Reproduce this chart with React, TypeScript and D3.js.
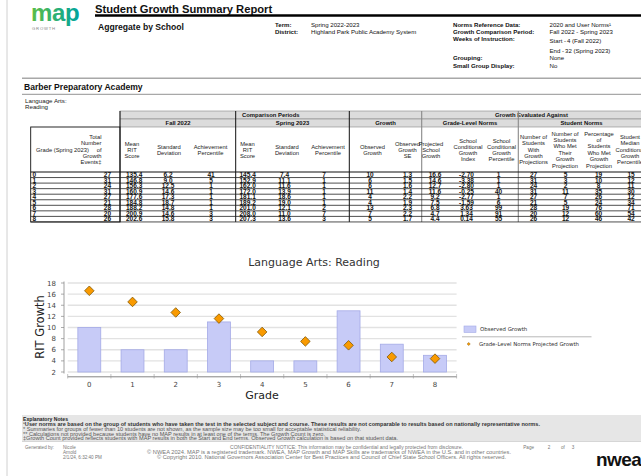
import * as d3 from 'd3'

const grades = ['0', '1', '2', '3', '4', '5', '6', '7', '8']
const totalEvents = [27, 31, 24, 31, 27, 21, 28, 20, 26]
const fallMean = ['135.4', '146.8', '156.3', '160.9', '177.6', '184.8', '188.2', '200.9', '202.6']
const fallSD = ['6.2', '9.0', '12.5', '14.6', '17.3', '18.7', '14.8', '14.6', '15.8']
const fallAch = [41, 5, 1, 1, 1, 1, 1, 3, 3]
const springMean = ['145.4', '152.9', '162.0', '172.0', '181.1', '189.2', '201.0', '208.0', '207.3']
const springSD = ['7.4', '11.1', '11.6', '13.9', '18.6', '19.0', '12.1', '11.0', '13.6']
const springAch = [7, 1, 1, 1, 1, 1, 2, 7, 3]
const observedGrowth = [10, 6, 6, 11, 4, 4, 13, 7, 5]
const growthSE = ['1.3', '1.5', '1.6', '1.4', '2.2', '1.9', '2.3', '2.2', '1.7']
const projectedGrowth = [16.6, 14.6, 12.7, 11.6, 9.2, 7.5, 6.8, 4.7, 4.4]
const growthIndex = ['-2.70', '-3.38', '-2.80', '-0.25', '-2.77', '-1.59', '3.63', '1.34', '0.14']
const growthPercentile = [1, 1, 1, 40, 1, 6, 99, 91, 55]
const withProjections = [27, 31, 24, 31, 27, 21, 28, 20, 26]
const metProjection = [5, 3, 2, 11, 7, 5, 19, 12, 12]
const pctMet = [19, 10, 8, 35, 26, 24, 76, 60, 46]
const medianCGP = [15, 12, 11, 30, 12, 34, 71, 54, 42]
const yTicks = [2, 4, 6, 8, 10, 12, 14, 16, 18]

const SANS = '"Liberation Sans", Arial, sans-serif'
const DJ = '"DejaVu Sans", sans-serif'

// table columns: header lines + data + placement
const columns = [
  { head: ['Grade (Spring 2023)'], hx: 62.5, data: grades, x: 32.5, anchor: 'start' },
  { head: ['Total', 'Number', 'of', 'Growth', 'Events‡'], hx: 101.5, hAnchor: 'end', data: totalEvents, x: 111, anchor: 'end' },
  { head: ['Mean', 'RIT', 'Score'], hx: 132, data: fallMean, x: 126, anchor: 'start' },
  { head: ['Standard', 'Deviation'], hx: 169, data: fallSD, x: 168, anchor: 'middle' },
  { head: ['Achievement', 'Percentile'], hx: 210.5, data: fallAch, x: 211, anchor: 'middle' },
  { head: ['Mean', 'RIT', 'Score'], hx: 247.5, data: springMean, x: 239.5, anchor: 'start' },
  { head: ['Standard', 'Deviation'], hx: 287, data: springSD, x: 284.5, anchor: 'middle' },
  { head: ['Achievement', 'Percentile'], hx: 328, data: springAch, x: 324, anchor: 'middle' },
  { head: ['Observed', 'Growth'], hx: 372.5, data: observedGrowth, x: 370, anchor: 'middle' },
  { head: ['Observed', 'Growth', 'SE'], hx: 407.5, data: growthSE, x: 407.5, anchor: 'middle' },
  { head: ['Projected', 'School', 'Growth'], hx: 431, data: projectedGrowth.map(d => d.toFixed(1)), x: 435, anchor: 'middle' },
  { head: ['School', 'Conditional', 'Growth', 'Index'], hx: 468, data: growthIndex, x: 466.5, anchor: 'middle' },
  { head: ['School', 'Conditional', 'Growth', 'Percentile'], hx: 501.5, data: growthPercentile, x: 498.5, anchor: 'middle' },
  { head: ['Number of', 'Students', 'With', 'Growth', 'Projections'], hx: 533.5, data: withProjections, x: 533.5, anchor: 'middle' },
  { head: ['Number of', 'Students', 'Who Met', 'Their', 'Growth', 'Projection'], hx: 565, data: metProjection, x: 565.5, anchor: 'middle' },
  { head: ['Percentage', 'of', 'Students', 'Who Met', 'Growth', 'Projection'], hx: 599, data: pctMet, x: 598.5, anchor: 'middle' },
  { head: ['Student', 'Median', 'Conditional', 'Growth', 'Percentile'], hx: 630, data: medianCGP, x: 631, anchor: 'middle' },
]

const notes = [
  '¹User norms are based on the group of students who have taken the test in the selected subject and course. These results are not comparable to results based on nationally representative norms.',
  '* Summaries for groups of fewer than 10 students are not shown, as the sample size may be too small for acceptable statistical reliability.',
  '** Calculations not provided because students have no MAP results in at least one of the terms. The Growth Count is zero.',
  '‡Growth Count provided reflects students with MAP results in both the Start and End terms.  Observed Growth calculation is based on that student data.',
]
const noteWidths = [517, 338, 302, 375]

export default function App() {
  // chart scales
  const x = d3.scaleBand<string>().domain(grades).range([67.7, 456.6]).paddingInner(0.47).paddingOuter(0.235)
  const y = d3.scaleLinear().domain([2, 18]).range([372, 283])
  const diamond = d3.symbol().type(d3.symbolSquare).size(46)()
  const smallDiamond = d3.symbol().type(d3.symbolSquare).size(5)()
  const step = x.step()
  const bounds = grades.map(g => (x(g) as number) - (step - x.bandwidth()) / 2).concat([456.6])

  // table geometry
  const tTop = 111, rowA = 119, rowB = 127, dataTop = 172, rowH = 5.55
  const tLeft = 30.7, tRight = 646
  const vBlack = [120, 235.7, 349.3]
  const vGray = [421.7, 518.3]
  const dataBottom = dataTop + rowH * grades.length
  const headMid = (rowB + dataTop) / 2

  return (
    <svg width={641} height={476} style={{ position: 'absolute', left: 0, top: 0, background: '#fff' }}>
      <defs>
        <linearGradient id="mapGrad" x1="0" x2="1" y1="0" y2="0">
          <stop offset="0" stopColor="#5cbd46" />
          <stop offset="1" stopColor="#00a39e" />
        </linearGradient>
      </defs>
      <rect width={641} height={476} fill="#fff" />
      <line x1={7} x2={7} y1={0} y2={476} stroke="#d0d0d0" strokeWidth={1} />

      {/* header */}
      <text x={31} y={21} fontFamily={SANS} fontWeight="bold" fontSize={24} fill="url(#mapGrad)" letterSpacing={-0.3}>map</text>
      <text x={32} y={30.3} fontFamily={SANS} fontSize={4.2} fill="#888" letterSpacing={0.8}>GROWTH</text>
      <text x={95} y={13.2} fontFamily={SANS} fontWeight="bold" fontSize={11.2} fill="#111">Student Growth Summary Report</text>
      <line x1={95} x2={641} y1={15.5} y2={15.5} stroke="#000" strokeWidth={2.4} />
      <text x={98} y={30} fontFamily={SANS} fontWeight="bold" fontSize={8.6} fill="#111">Aggregate by School</text>
      <g fontFamily={SANS} fontSize={6.1} fill="#111">
        <text x={275} y={26.7} fontWeight="bold">Term:</text>
        <text x={275} y={33.7} fontWeight="bold">District:</text>
        <text x={311} y={26.7}>Spring 2022-2023</text>
        <text x={311} y={33.7}>Highland Park Public Academy System</text>
        <text x={453} y={26.5} fontWeight="bold">Norms Reference Data:</text>
        <text x={453} y={33.5} fontWeight="bold">Growth Comparison Period:</text>
        <text x={453} y={40.5} fontWeight="bold">Weeks of Instruction:</text>
        <text x={453} y={59.9} fontWeight="bold">Grouping:</text>
        <text x={453} y={67.5} fontWeight="bold">Small Group Display:</text>
        <text x={549.5} y={26.5}>2020 and User Norms¹</text>
        <text x={549.5} y={33.5}>Fall 2022 - Spring 2023</text>
        <text x={549.5} y={42.5}>Start -</text>
        <text x={567} y={42.5}>4 (Fall 2022)</text>
        <text x={549.5} y={53.2}>End -</text>
        <text x={565} y={53.2}>32 (Spring 2023)</text>
        <text x={549.5} y={60.2}>None</text>
        <text x={549.5} y={67.5}>No</text>
      </g>
      <line x1={22} x2={641} y1={78.3} y2={78.3} stroke="#a8a8a8" strokeWidth={1.4} />
      <text x={24} y={89.8} fontFamily={SANS} fontWeight="bold" fontSize={8.6} fill="#111">Barber Preparatory Academy</text>
      <line x1={22} x2={641} y1={94.3} y2={94.3} stroke="#a8a8a8" strokeWidth={1.2} />
      <text x={25} y={103} fontFamily={SANS} fontSize={6.2} fill="#222">Language Arts:</text>
      <text x={25} y={109.3} fontFamily={SANS} fontSize={6.2} fill="#222">Reading</text>

      {/* table header bands */}
      <rect x={120} y={tTop} width={tRight - 120} height={rowA - tTop} fill="#dcdcdc" stroke="#888" strokeWidth={0.6} />
      <rect x={120} y={rowA} width={tRight - 120} height={rowB - rowA} fill="#dcdcdc" stroke="#888" strokeWidth={0.6} />
      <g fontFamily={SANS} fontWeight="bold" fontSize={5.9} fill="#111" textAnchor="middle">
        <text x={270.8} y={117.3}>Comparison Periods</text>
        <text x={531.5} y={117.3}>Growth Evaluated Against</text>
        <text x={178} y={125.1}>Fall 2022</text>
        <text x={292.5} y={125.1}>Spring 2023</text>
        <text x={385.5} y={125.1}>Growth</text>
        <text x={470} y={125.1}>Grade-Level Norms</text>
        <text x={581.5} y={125.1}>Student Norms</text>
      </g>
      <rect x={tLeft} y={rowB} width={120 - tLeft} height={dataBottom - rowB} fill="none" stroke="#111" strokeWidth={0.9} />
      {vBlack.map(v => <line key={v} x1={v} x2={v} y1={tTop} y2={dataBottom} stroke="#111" strokeWidth={1} />)}
      {vGray.map(v => <line key={v} x1={v} x2={v} y1={tTop} y2={dataBottom} stroke="#888" strokeWidth={1.1} />)}
      <line x1={tLeft} x2={tRight} y1={dataTop} y2={dataTop} stroke="#111" strokeWidth={1.2} />
      {grades.map((g, i) => (
        <line key={g} x1={tLeft} x2={tRight} y1={dataTop + rowH * (i + 1)} y2={dataTop + rowH * (i + 1)} stroke="#222" strokeWidth={0.8} />
      ))}
      <g fontFamily={SANS} fontSize={5.8} fill="#222">
        {columns.map((c, ci) => {
          const lh = c.head.length > 4 ? 6.4 : 6
          const y0 = headMid - ((c.head.length - 1) * lh) / 2
          return c.head.map((ln, li) => (
            <text key={ci + '-' + li} x={c.hx} y={y0 + li * lh + 2} textAnchor={c.hAnchor || 'middle'}>{ln}</text>
          ))
        })}
      </g>
      <g fontFamily={SANS} fontWeight="bold" fontSize={6.5} fill="#111">
        {columns.map((c, ci) =>
          c.data.map((v, ri) => (
            <text key={ci + '-' + ri} x={c.x} y={dataTop + rowH * ri + rowH / 2 + 2.3} textAnchor={c.anchor}>{String(v)}</text>
          ))
        )}
      </g>

      {/* chart */}
      <text x={314} y={265.5} fontFamily={DJ} fontSize={11} fill="#333" textAnchor="middle">Language Arts: Reading</text>
      {yTicks.map(t => (
        <g key={t}>
          <line x1={67.7} x2={456.6} y1={y(t)} y2={y(t)} stroke="#e2e2e2" strokeWidth={1.3} />
          <line x1={61} x2={64} y1={y(t)} y2={y(t)} stroke="#888" strokeWidth={0.7} />
          <text x={56} y={y(t) + 2.5} fontFamily={DJ} fontSize={7} fill="#444" textAnchor="end">{t}</text>
        </g>
      ))}
      <line x1={64} x2={64} y1={281.5} y2={373.5} stroke="#888" strokeWidth={0.8} />
      <line x1={67.7} x2={456.6} y1={376.8} y2={376.8} stroke="#666" strokeWidth={0.8} />
      {bounds.map((b, i) => (
        <line key={i} x1={b} x2={b} y1={374} y2={378.5} stroke="#999" strokeWidth={0.6} />
      ))}
      {grades.map((g, i) => (
        <rect key={g} x={x(g)} y={y(observedGrowth[i])} width={x.bandwidth()} height={y(2) - y(observedGrowth[i])}
          fill="#c7cbf7" stroke="#a4aae6" strokeWidth={0.8} />
      ))}
      {grades.map((g, i) => (
        <path key={g} d={diamond as string}
          transform={`translate(${(x(g) as number) + x.bandwidth() / 2},${y(projectedGrowth[i])}) rotate(45)`}
          fill="#f99a00" stroke="#7a5200" strokeWidth={0.7} />
      ))}
      {grades.map(g => (
        <text key={g} x={(x(g) as number) + x.bandwidth() / 2} y={386.5} fontFamily={DJ} fontSize={7} fill="#444" textAnchor="middle">{g}</text>
      ))}
      <text x={262} y={399} fontFamily={DJ} fontSize={11} fill="#222" textAnchor="middle">Grade</text>
      <text transform="translate(44,327) rotate(-90)" fontFamily={DJ} fontSize={11.5} fill="#222" textAnchor="middle">RIT Growth</text>

      {/* legend */}
      <rect x={464} y={326} width={12} height={6.5} fill="#c7cbf7" stroke="#a4aae6" strokeWidth={0.6} />
      <text x={480} y={331.3} fontFamily={DJ} fontSize={5.4} fill="#333">Observed Growth</text>
      <line x1={462} x2={591.5} y1={336.8} y2={336.8} stroke="#888" strokeWidth={0.6} />
      <path d={smallDiamond as string} transform="translate(468.7,344) rotate(45)" fill="#f99a00" stroke="#7a5200" strokeWidth={0.4} />
      <text x={479} y={345.8} fontFamily={DJ} fontSize={5.4} fill="#333">Grade-Level Norms Projected Growth</text>

      {/* footer */}
      <rect x={22} y={415} width={619} height={26} fill="#e6e6e6" />
      <text x={23} y={421.3} fontFamily={SANS} fontWeight="bold" fontSize={4.7} fill="#222" textLength={45} lengthAdjust="spacingAndGlyphs">Explanatory Notes</text>
      {notes.map((n, i) => (
        <text key={i} x={23} y={426.3 + i * 4.7} fontFamily={SANS} fontSize={4.6} fontWeight={i === 0 ? 'bold' : 'normal'}
          fill={i === 0 ? '#333' : '#555'} textLength={noteWidths[i]} lengthAdjust="spacingAndGlyphs">{n}</text>
      ))}
      <line x1={22} x2={641} y1={441.5} y2={441.5} stroke="#bbb" strokeWidth={0.6} />
      <g fontFamily={SANS} fontSize={4.6} fill="#777">
        <text x={25} y={449.3}>Generated by:</text>
        <text x={63} y={449.3}>Nicole</text>
        <text x={63} y={454.3}>Arnold</text>
        <text x={63} y={459.3}>2/1/24, 6:32:40 PM</text>
        <text x={230} y={449.3} textLength={233} lengthAdjust="spacingAndGlyphs">CONFIDENTIALITY NOTICE: This information may be confidential and legally protected from disclosure.</text>
        <text x={147} y={454.3} textLength={364} lengthAdjust="spacingAndGlyphs">© NWEA 2024. MAP is a registered trademark. NWEA, MAP Growth and MAP Skills are trademarks of NWEA in the U.S. and in other countries.</text>
        <text x={157} y={459.3} textLength={349} lengthAdjust="spacingAndGlyphs">© Copyright 2010. National Governors Association Center for Best Practices and Council of Chief State School Officers. All rights reserved.</text>
        <text x={523.3} y={449.3}>Page</text>
        <text x={547.7} y={449.3}>2</text>
        <text x={561} y={449.3}>of</text>
        <text x={571.7} y={449.3}>3</text>
      </g>
      <text x={596} y={466} fontFamily={SANS} fontWeight="bold" fontSize={19} fill="#111" letterSpacing={-0.6}>nwea</text>
    </svg>
  )
}
